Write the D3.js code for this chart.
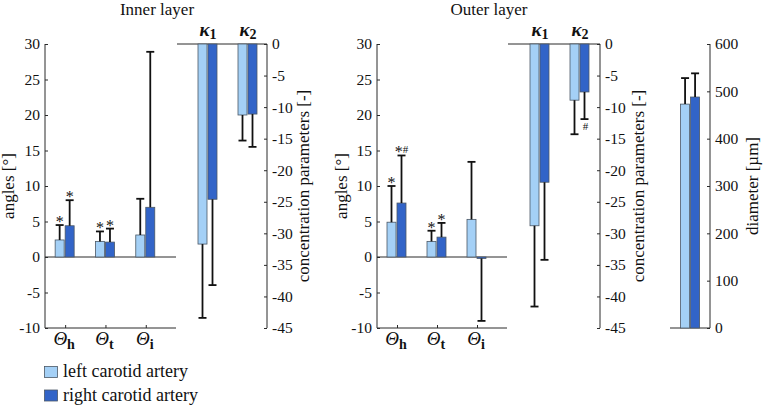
<!DOCTYPE html>
<html><head><meta charset="utf-8">
<script src="https://cdn.jsdelivr.net/npm/d3@7"></script>
<style>
body{margin:0;background:#fff;}
svg text{font-family:"Liberation Serif";fill:#111;}
</style></head>
<body><svg id="c" width="765" height="406"></svg>
<script>
// ---------- data ----------
const angleCats = ["h", "t", "i"];
const kappaCats = ["1", "2"];
const seriesNames = ["left carotid artery", "right carotid artery"];

const innerAngleLeft = [2.4, 2.2, 3.1];
const innerAngleLeftSD = [2.1, 1.4, 5.1];
const innerAngleRight = [4.4, 2.1, 7.0];
const innerAngleRightSD = [3.6, 1.9, 21.9];

const innerKappaLeft = [-31.7, -11.25];
const innerKappaLeftSD = [11.7, 4.05];
const innerKappaRight = [-24.6, -11.1];
const innerKappaRightSD = [13.6, 5.2];

const outerAngleLeft = [4.9, 2.2, 5.3];
const outerAngleLeftSD = [5.1, 1.5, 8.1];
const outerAngleRight = [7.6, 2.8, -0.2];
const outerAngleRightSD = [6.7, 2.0, 8.8];

const outerKappaLeft = [-28.8, -8.9];
const outerKappaLeftSD = [12.8, 5.4];
const outerKappaRight = [-21.9, -7.6];
const outerKappaRightSD = [12.3, 4.3];

const diameterLeft = [473];
const diameterLeftSD = [55];
const diameterRight = [488];
const diameterRightSD = [50];

const angleTicks = [-10, -5, 0, 5, 10, 15, 20, 25, 30];
const kappaTicks = [0, -5, -10, -15, -20, -25, -30, -35, -40, -45];
const diameterTicks = [0, 100, 200, 300, 400, 500, 600];

// annotations: [panel, category index, series index, text, position]
const marks = [
  ["innerAngle", 0, 0, "*", "above"], ["innerAngle", 0, 1, "*", "above"],
  ["innerAngle", 1, 0, "*", "above"], ["innerAngle", 1, 1, "*", "above"],
  ["outerAngle", 0, 0, "*", "above"], ["outerAngle", 0, 1, "*#", "above"],
  ["outerAngle", 1, 0, "*", "above"], ["outerAngle", 1, 1, "*", "above"],
  ["outerKappa", 1, 1, "#", "below"]
];

// ---------- drawing ----------
const FONT = '"Liberation Serif"';
const svg = d3.select("#c");
const colors = ["#a4d0f6", "#3264c8"];
const axisColor = "#2a2a2a";
const barStroke = "#4b5866";
const fmt = d => String(d);

const sub = d3.scaleBand().domain([0, 1]).range([-10, 9]).paddingInner(0.1);

function build(id, lefts, leftSD, rights, rightSD, x, y) {
  return {id, x, y, data: lefts.map((v, i) => [
    {s: 0, i, v, sd: leftSD[i]},
    {s: 1, i, v: rights[i], sd: rightSD[i]}
  ])};
}

const yAng = d3.scaleLinear().domain([-10, 30]).range([328, 44]);
const yKap = d3.scaleLinear().domain([-45, 0]).range([328, 44]);
const yDia = d3.scaleLinear().domain([0, 600]).range([328, 44]);

const panels = {
  innerAngle: build("innerAngle", innerAngleLeft, innerAngleLeftSD, innerAngleRight, innerAngleRightSD,
    d3.scaleLinear().domain([0.5, 3.75]).range([45, 176]), yAng),
  outerAngle: build("outerAngle", outerAngleLeft, outerAngleLeftSD, outerAngleRight, outerAngleRightSD,
    d3.scaleLinear().domain([0.5, 3.75]).range([377, 507]), yAng),
  innerKappa: build("innerKappa", innerKappaLeft, innerKappaLeftSD, innerKappaRight, innerKappaRightSD,
    d3.scaleLinear().domain([0.225, 2.475]).range([177, 267]), yKap),
  outerKappa: build("outerKappa", outerKappaLeft, outerKappaLeftSD, outerKappaRight, outerKappaRightSD,
    d3.scaleLinear().domain([0.2, 2.5]).range([508, 600]), yKap),
  diameter: build("diameter", diameterLeft, diameterLeftSD, diameterRight, diameterRightSD,
    d3.scaleLinear().domain([0.47, 1.5]).range([670, 710]), yDia)
};

function txt(sel) { return sel.style("font-family", FONT); }

function drawBars(p) {
  const g = svg.append("g");
  const flat = p.data.flat();
  const base = p.y(0);
  g.selectAll("rect").data(flat).join("rect")
    .attr("x", d => p.x(d.i + 1) + sub(d.s))
    .attr("width", sub.bandwidth())
    .attr("y", d => Math.min(p.y(d.v), base))
    .attr("height", d => Math.abs(p.y(d.v) - base))
    .attr("fill", d => colors[d.s])
    .attr("stroke", barStroke).attr("stroke-width", 0.8);
  const eg = g.append("g").attr("stroke", "#111").attr("stroke-width", 1.8);
  flat.forEach(d => {
    const cx = p.x(d.i + 1) + sub(d.s) + sub.bandwidth() / 2;
    const end = d.v >= 0 ? d.v + d.sd : d.v - d.sd;
    eg.append("line").attr("x1", cx).attr("x2", cx).attr("y1", p.y(d.v)).attr("y2", p.y(end));
    eg.append("line").attr("x1", cx - 4).attr("x2", cx + 4).attr("y1", p.y(end)).attr("y2", p.y(end));
    d.cx = cx; d.endY = p.y(end);
  });
}

function styleAxis(g) {
  g.selectAll("line,path").attr("stroke", axisColor);
  txt(g.selectAll("text")).attr("font-size", 15.5).attr("fill", "#111");
}

function drawAngleAxes(p, left) {
  const g = svg.append("g").attr("transform", `translate(${p.x.range()[0]},0)`);
  g.call(d3.axisLeft(p.y).tickValues(angleTicks).tickSize(-3).tickPadding(5).tickFormat(fmt));
  g.select(".domain").attr("d", `M0,${p.y.range()[1]}V${p.y.range()[0]}`);
  styleAxis(g);
  const xb = svg.append("g").attr("transform", `translate(0,${p.y(-10)})`);
  xb.call(d3.axisBottom(p.x).tickValues([1, 2, 3]).tickSize(-3).tickFormat(""));
  xb.selectAll("line,path").attr("stroke", axisColor);
  xb.select(".domain").attr("d", `M${p.x.range()[0]},0H${p.x.range()[1]}`);
  svg.append("line").attr("x1", p.x.range()[0]).attr("x2", p.x.range()[1])
    .attr("y1", p.y(0)).attr("y2", p.y(0)).attr("stroke", axisColor);
  angleCats.forEach((c, i) => {
    const t = txt(svg.append("text")).attr("x", p.x(i + 1) - 1).attr("y", 345)
      .attr("text-anchor", "middle").attr("font-size", 19);
    t.append("tspan").attr("font-style", "italic").text("Θ");
    t.append("tspan").attr("font-weight", "bold").attr("font-size", 14).attr("dy", 4).text(c);
  });
  txt(svg.append("text")).attr("transform", `translate(${left},186) rotate(-90)`)
    .attr("text-anchor", "middle").attr("font-size", 17).text("angles [°]");
}

function drawKappaAxes(p, labelX) {
  const xr = p.x.range();
  const g = svg.append("g").attr("transform", `translate(${xr[1]},0)`);
  g.call(d3.axisRight(p.y).tickValues(kappaTicks).tickSize(-3).tickPadding(5).tickFormat(fmt));
  g.select(".domain").attr("d", `M0,${p.y.range()[1]}V${p.y.range()[0]}`);
  styleAxis(g);
  svg.append("line").attr("x1", xr[0]).attr("x2", xr[1]).attr("y1", p.y(0)).attr("y2", p.y(0))
    .attr("stroke", axisColor);
  kappaCats.forEach((c, i) => {
    const t = txt(svg.append("text")).attr("x", p.x(i + 1)).attr("y", 36)
      .attr("text-anchor", "middle").attr("font-size", 19).attr("font-weight", "bold");
    t.append("tspan").attr("font-style", "italic").text("κ");
    t.append("tspan").attr("font-size", 14).attr("dy", 3).text(c);
  });
  txt(svg.append("text")).attr("transform", `translate(${labelX},186) rotate(-90)`)
    .attr("text-anchor", "middle").attr("font-size", 17).text("concentration parameters [-]");
}

function drawDiameterAxes(p) {
  const xr = p.x.range();
  const g = svg.append("g").attr("transform", `translate(${xr[1]},0)`);
  g.call(d3.axisRight(p.y).tickValues(diameterTicks).tickSize(-3).tickPadding(5).tickFormat(fmt));
  g.select(".domain").attr("d", `M0,${p.y.range()[1]}V${p.y.range()[0]}`);
  styleAxis(g);
  svg.append("line").attr("x1", xr[0]).attr("x2", xr[1]).attr("y1", p.y(0)).attr("y2", p.y(0))
    .attr("stroke", axisColor);
  txt(svg.append("text")).attr("transform", `translate(758,186) rotate(-90)`)
    .attr("text-anchor", "middle").attr("font-size", 17).text("diameter [µm]");
}

drawAngleAxes(panels.innerAngle, 14);
drawAngleAxes(panels.outerAngle, 347);
drawKappaAxes(panels.innerKappa, 309);
drawKappaAxes(panels.outerKappa, 644);
drawDiameterAxes(panels.diameter);

Object.values(panels).forEach(drawBars);

// significance marks
marks.forEach(([pid, i, s, m, pos]) => {
  const d = panels[pid].data[i][s];
  if (pos === "above") {
    const t = txt(svg.append("text")).attr("x", d.cx).attr("y", d.endY + 2)
      .attr("text-anchor", "middle").attr("font-size", 16);
    t.append("tspan").text("*");
    if (m.includes("#")) t.append("tspan").attr("font-size", 11).attr("dy", -4).text("#");
  } else {
    txt(svg.append("text")).attr("x", d.cx + 1).attr("y", d.endY + 11)
      .attr("text-anchor", "middle").attr("font-size", 11).text(m);
  }
});

// titles
txt(svg.append("text")).attr("x", 157).attr("y", 15).attr("text-anchor", "middle").attr("font-size", 17).text("Inner layer");
txt(svg.append("text")).attr("x", 489).attr("y", 15).attr("text-anchor", "middle").attr("font-size", 17).text("Outer layer");

// legend
const lg = svg.append("g");
seriesNames.forEach((n, k) => {
  lg.append("rect").attr("x", 44.5).attr("y", 366.5 + k * 23.5).attr("width", 13).attr("height", 11)
    .attr("fill", colors[k]).attr("stroke", barStroke).attr("stroke-width", 0.8);
  txt(lg.append("text")).attr("x", 63).attr("y", 377 + k * 23.5).attr("font-size", 18).text(n);
});
</script></body></html>
